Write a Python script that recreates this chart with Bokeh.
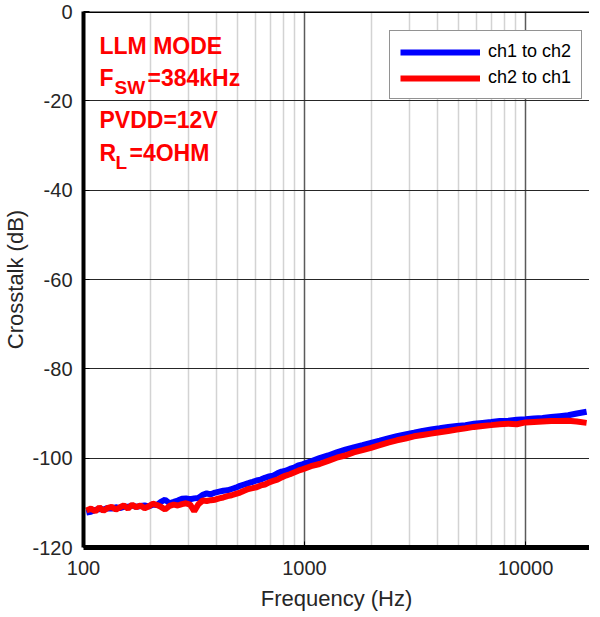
from bokeh.plotting import figure
from bokeh.models import FixedTicker, Span, Label, Legend, LegendItem, ColumnDataSource
from bokeh.embed import file_html
from bokeh.resources import INLINE

freq = [103, 108, 113, 118, 123, 128, 134, 140, 146, 152,
        159, 166, 173, 181, 189, 197, 206, 215, 224, 234,
        245, 256, 267, 279, 291, 304, 317, 331, 346, 361,
        377, 394, 411, 429, 448, 468, 489, 511, 533, 557,
        582, 607, 634, 662, 692, 722, 754, 788, 823, 859,
        897, 937, 978,
        1070, 1170, 1280, 1400, 1530, 1670, 1830, 2000, 2190, 2390,
        2620, 2860, 3130, 3420, 3740, 4090, 4470, 4890, 5350, 5850,
        6390, 6990, 7640, 8360, 9140, 9990, 10920, 11940, 13060, 14280,
        15610, 17070, 18900]

ch1_to_ch2 = [-112.2, -112.0, -111.6, -111.4, -111.5, -111.2, -111.3, -111.0, -111.2, -110.9,
              -110.9, -110.6, -110.9, -110.7, -110.6, -110.8, -110.4, -110.5, -109.8, -109.3,
              -110.1, -109.8, -109.5, -109.1, -109.0, -109.2, -109.0, -108.9, -108.2, -107.9,
              -108.1, -107.7, -107.5, -107.3, -107.2, -106.9, -106.6, -106.2, -105.9, -105.6,
              -105.3, -105.0, -104.8, -104.4, -104.1, -103.9, -103.4, -103.0, -102.8, -102.4,
              -102.1, -101.6, -101.4,
              -100.7, -100.0, -99.4, -98.7, -98.1, -97.6, -97.1, -96.6, -96.1, -95.6,
              -95.1, -94.7, -94.3, -93.9, -93.6, -93.3, -93.0, -92.8, -92.6, -92.3,
              -92.1, -91.9, -91.7, -91.6, -91.4, -91.3, -91.1, -91.0, -90.8, -90.6,
              -90.4, -90.0, -89.6]

ch2_to_ch1 = [-111.7, -111.3, -111.9, -111.0, -111.8, -111.2, -110.9, -111.5, -111.0, -110.6,
              -111.3, -110.4, -111.0, -110.6, -111.2, -110.8, -110.2, -110.5, -110.9, -111.5,
              -110.7, -110.4, -110.6, -110.3, -110.1, -110.4, -111.9, -110.3, -109.5, -109.6,
              -109.4, -109.3, -109.0, -108.8, -108.5, -108.3, -108.0, -107.7, -107.3, -106.9,
              -106.7, -106.5, -106.1, -105.9, -105.4, -105.1, -104.8, -104.3, -103.9, -103.6,
              -103.2, -102.8, -102.5,
              -101.8, -101.3, -100.6, -99.9, -99.4, -98.7, -98.2, -97.7, -97.1, -96.5,
              -96.0, -95.6, -95.1, -94.8, -94.5, -94.2, -93.9, -93.6, -93.3, -93.0,
              -92.8, -92.6, -92.4, -92.3, -92.4, -92.0, -91.9, -91.8, -91.7, -91.7,
              -91.6, -91.8, -92.1]

x_major = [100, 1000, 10000]
x_minor = [200, 300, 400, 500, 600, 700, 800, 900,
           2000, 3000, 4000, 5000, 6000, 7000, 8000, 9000]
x_labels = ["100", "1000", "10000"]
y_ticks = [-120, -100, -80, -60, -40, -20, 0]
y_labels = ["-120", "-100", "-80", "-60", "-40", "-20", "0"]

FONT = "Liberation Sans"
TXT = "#262626"

p = figure(frame_width=506, frame_height=536, x_axis_type="log", x_range=(100, 19480), y_range=(-120, 0),
           output_backend="svg", toolbar_location=None,
           min_border_left=78, min_border_right=0, min_border_top=11, min_border_bottom=52)
p.outline_line_color = None
p.background_fill_color = "white"

p.xaxis.ticker = FixedTicker(ticks=x_major, minor_ticks=x_minor)
p.yaxis.ticker = FixedTicker(ticks=y_ticks, minor_ticks=[])
p.xaxis.major_label_overrides = {v: s for v, s in zip(x_major, x_labels)}
p.yaxis.major_label_overrides = {v: s for v, s in zip(y_ticks, y_labels)}

p.xgrid.grid_line_color = "#5a5a5a"
p.xgrid.grid_line_width = 1.5
p.xgrid.minor_grid_line_color = "#d3d3d3"
p.xgrid.minor_grid_line_width = 1.5
p.ygrid.grid_line_color = "#262626"
p.ygrid.grid_line_width = 1

for ax in (p.xaxis[0], p.yaxis[0]):
    ax.axis_line_color = "black"
    ax.major_tick_in = 6
    ax.major_tick_out = 0
    ax.major_tick_line_color = "black"
    ax.minor_tick_line_color = None
    ax.major_label_text_font = FONT
    ax.major_label_text_font_size = "20px"
    ax.major_label_text_color = TXT
    ax.axis_label_text_font = FONT
    ax.axis_label_text_font_size = "22px"
    ax.axis_label_text_font_style = "normal"
    ax.axis_label_text_color = TXT
p.xaxis.axis_line_width = 5
p.yaxis.axis_line_width = 4
p.xaxis.axis_label = "Frequency (Hz)"
p.yaxis.axis_label = "Crosstalk (dB)"
p.xaxis.major_label_standoff = 9
p.xaxis.axis_label_standoff = 8
p.yaxis.major_label_standoff = 11
p.yaxis.axis_label_standoff = 1

p.add_layout(Span(location=0, dimension="width", line_color="black", line_width=3))

src = ColumnDataSource(dict(f=freq, a=ch1_to_ch2, b=ch2_to_ch1))
rb = p.line("f", "a", source=src, line_color="#0000ff", line_width=6)
rr = p.line("f", "b", source=src, line_color="#ff0000", line_width=6)

legend = Legend(items=[LegendItem(label="ch1 to ch2", renderers=[rb]),
                       LegendItem(label="ch2 to ch1", renderers=[rr])],
                location=(306, 448), glyph_width=80, glyph_height=20,
                label_text_font=FONT, label_text_font_size="18px", label_text_color="black",
                border_line_color="#262626", border_line_width=1,
                background_fill_alpha=1, padding=9, spacing=5, label_standoff=8, margin=0)
legend.padding = 10
p.add_layout(legend)

def lab(text, x, y, size):
    p.add_layout(Label(text=text, x=x, y=y, x_units="screen", y_units="screen",
                       text_font=FONT, text_font_size=size, text_font_style="bold",
                       text_color="#ff0000", text_baseline="alphabetic"))

lab("LLM MODE", 16, 502, "23px")
lab("F", 16, 470, "23px")
lab("SW", 31, 460, "19px")
lab("=384kHz", 64, 470, "23px")
lab("PVDD=12V", 16, 428, "23px")
lab("R", 16, 395, "23px")
lab("L", 32, 385, "19px")
lab("=4OHM", 46, 395, "23px")

open("out.html", "w").write(file_html(p, INLINE))
